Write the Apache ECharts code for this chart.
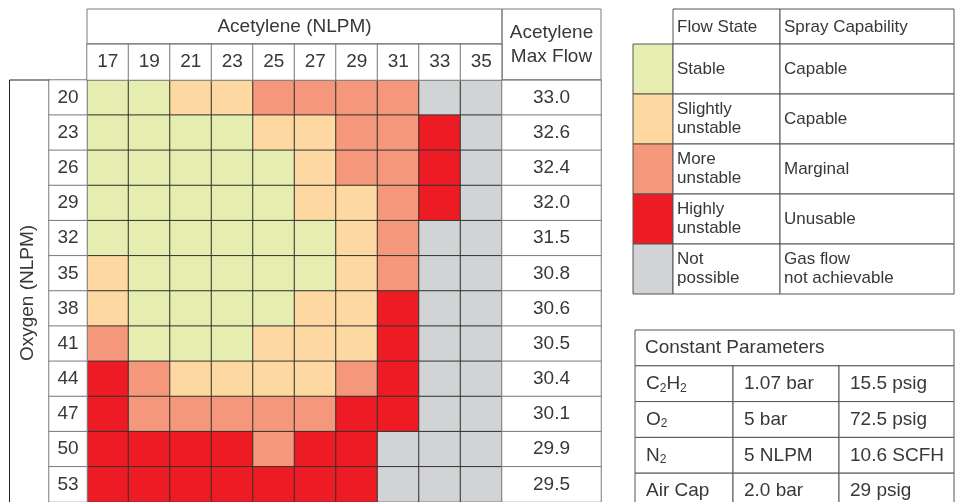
<!DOCTYPE html>
<html>
<head>
<meta charset="utf-8">
<script src="https://cdn.jsdelivr.net/npm/echarts@6/dist/echarts.min.js"></script>
<style>
html,body{margin:0;padding:0;background:#fff;}
#c1{width:962px;height:502px;}
</style>
</head>
<body>
<div id="c1"></div>
<script>
var acetylene = [17, 19, 21, 23, 25, 27, 29, 31, 33, 35];
var oxygen = [20, 23, 26, 29, 32, 35, 38, 41, 44, 47, 50, 53];
// 0 stable, 1 slightly unstable, 2 more unstable, 3 highly unstable, 4 not possible
var flowState = [
  [0, 0, 1, 1, 2, 2, 2, 2, 4, 4],
  [0, 0, 0, 0, 1, 1, 2, 2, 3, 4],
  [0, 0, 0, 0, 0, 1, 2, 2, 3, 4],
  [0, 0, 0, 0, 0, 1, 1, 2, 3, 4],
  [0, 0, 0, 0, 0, 0, 1, 2, 4, 4],
  [1, 0, 0, 0, 0, 0, 1, 2, 4, 4],
  [1, 0, 0, 0, 0, 1, 1, 3, 4, 4],
  [2, 0, 0, 0, 1, 1, 1, 3, 4, 4],
  [3, 2, 1, 1, 1, 1, 2, 3, 4, 4],
  [3, 2, 2, 2, 2, 2, 3, 3, 4, 4],
  [3, 3, 3, 3, 2, 3, 3, 4, 4, 4],
  [3, 3, 3, 3, 3, 3, 3, 4, 4, 4]
];
var maxFlow = [33.0, 32.6, 32.4, 32.0, 31.5, 30.8, 30.6, 30.5, 30.4, 30.1, 29.9, 29.5];

var stateNames = ['Stable', 'Slightly\nunstable', 'More\nunstable', 'Highly\nunstable', 'Not\npossible'];
var sprayNames = ['Capable', 'Capable', 'Marginal', 'Unusable', 'Gas flow\nnot achievable'];
var stateColors = ['#e6edb0', '#fdd8a1', '#f4977a', '#ed1c24', '#d1d3d4'];

var paramNames = ['C{s|2}H{s|2}', 'O{s|2}', 'N{s|2}', 'Air Cap'];
var paramMetric = ['1.07 bar', '5 bar', '5 NLPM', '2.0 bar'];
var paramImperial = ['15.5 psig', '72.5 psig', '10.6 SCFH', '29 psig'];

var FONT = '"Liberation Sans", Arial, sans-serif';
var TXT = '#383838';
var LINE = '#7a7a7a';

// table layout
var cellX = 87, colW = 41.5, cellTop = 80, rowH = 35.8;
var cellW = colW * acetylene.length, cellH = rowH * oxygen.length;

var cells = [];
for (var r = 0; r < oxygen.length; r++) {
  for (var c = 0; c < acetylene.length; c++) {
    cells.push([c, r, flowState[r][c]]);
  }
}
var flowCells = maxFlow.map(function (v, i) { return [0, i, v]; });
var oxyCells = oxygen.map(function (v, i) { return [0, i, v]; });
var acetCells = acetylene.map(function (v, i) { return [i, 0, v]; });

function box(x, y, w, h, fill, stroke) {
  return { type: 'rect', shape: { x: x, y: y, width: w, height: h }, style: { fill: fill || 'none', stroke: stroke || LINE, lineWidth: 1 }, z: 10 };
}
function txt(x, y, s, size, align, extra) {
  var st = { x: x, y: y, text: s, fill: TXT, fontSize: size, fontFamily: FONT, align: align || 'left', verticalAlign: 'middle', lineHeight: Math.round(size * 0.95) };
  if (extra) for (var k in extra) st[k] = extra[k];
  return { type: 'text', style: st, z: 20 };
}

var graphics = [];
// header cells
graphics.push(box(cellX, 9, cellW, 35));
graphics.push(txt(cellX + cellW / 2, 27, 'Acetylene (NLPM)', 19, 'center'));
graphics.push(box(cellX + cellW, 9, 99, 71));
graphics.push(txt(cellX + cellW + 49.5, 45, 'Acetylene\nMax Flow', 19, 'center', { lineHeight: 24 }));
// oxygen side cell
graphics.push({ type: 'polyline', shape: { points: [[49, cellTop], [9.5, cellTop], [9.5, 510]] }, style: { stroke: '#222', lineWidth: 1, fill: 'none' }, z: 10 });
graphics.push({ type: 'text', x: 28, y: 293, rotation: Math.PI / 2, style: { x: 0, y: 0, text: 'Oxygen (NLPM)', fill: TXT, fontSize: 19, fontFamily: FONT, align: 'center', verticalAlign: 'middle' }, z: 20 });

// legend table
var lgX = 633, swW = 40, fsW = 107, spW = 174, lgTop = 44, lgRowH = 50;
graphics.push(box(lgX + swW, 9, fsW, 35, '#fff', '#555'));
graphics.push(box(lgX + swW + fsW, 9, spW, 35, '#fff', '#555'));
graphics.push(txt(lgX + swW + 4, 27, 'Flow State', 17));
graphics.push(txt(lgX + swW + fsW + 4, 27, 'Spray Capability', 17));
stateNames.forEach(function (n, i) {
  var y = lgTop + i * lgRowH;
  graphics.push(box(lgX, y, swW, lgRowH, stateColors[i], '#555'));
  graphics.push(box(lgX + swW, y, fsW, lgRowH, '#fff', '#555'));
  graphics.push(box(lgX + swW + fsW, y, spW, lgRowH, '#fff', '#555'));
  graphics.push(txt(lgX + swW + 4, y + lgRowH / 2, n, 17, 'left', { lineHeight: 19 }));
  graphics.push(txt(lgX + swW + fsW + 4, y + lgRowH / 2, sprayNames[i], 17, 'left', { lineHeight: 19 }));
});

// constant parameters table
var cpX = 635, cpTop = 330, cpCols = [0, 98, 204, 319];
graphics.push(box(cpX, cpTop, cpCols[3], rowH, '#fff', '#555'));
graphics.push(txt(cpX + 10, cpTop + rowH / 2, 'Constant Parameters', 19));
var subRich = { s: { fontSize: 12, fontFamily: FONT, fill: TXT, lineHeight: 12, padding: [9, 0, 0, 0] } };
paramNames.forEach(function (n, i) {
  var y = cpTop + (i + 1) * rowH;
  var cols = [n, paramMetric[i], paramImperial[i]];
  for (var c = 0; c < 3; c++) {
    graphics.push(box(cpX + cpCols[c], y, cpCols[c + 1] - cpCols[c], rowH, '#fff', '#555'));
    graphics.push(txt(cpX + cpCols[c] + 11, y + rowH / 2, cols[c], 19, 'left', c === 0 ? { rich: subRich, lineHeight: 21 } : null));
  }
});

var labelStyle = { show: true, color: TXT, fontSize: 19, fontFamily: FONT };
function plainAxis(data, idx, inverse) {
  return { type: 'category', data: data, gridIndex: idx, show: false, inverse: !!inverse };
}

var chart = echarts.init(document.getElementById('c1'));
var option = {
  backgroundColor: '#fff',
  animation: false,
  grid: [
    { left: cellX, top: cellTop, width: cellW, height: cellH },
    { left: cellX + cellW, top: cellTop, width: 99, height: cellH },
    { left: 49, top: cellTop, width: cellX - 49, height: cellH },
    { left: cellX, top: 44, width: cellW, height: 36 }
  ],
  xAxis: [
    plainAxis(acetylene, 0),
    plainAxis(['max'], 1),
    plainAxis(['o2'], 2),
    plainAxis(acetylene, 3)
  ],
  yAxis: [
    plainAxis(oxygen, 0, true),
    plainAxis(oxygen, 1, true),
    plainAxis(oxygen, 2, true),
    plainAxis(['c2h2'], 3)
  ],
  visualMap: {
    type: 'piecewise',
    show: false,
    seriesIndex: 0,
    dimension: 2,
    pieces: stateColors.map(function (col, i) { return { value: i, color: col }; })
  },
  series: [
    {
      name: 'Flow state', type: 'heatmap', xAxisIndex: 0, yAxisIndex: 0, data: cells,
      itemStyle: { borderColor: '#333', borderWidth: 1 },
      emphasis: { disabled: true }
    },
    {
      name: 'Acetylene Max Flow', type: 'heatmap', xAxisIndex: 1, yAxisIndex: 1, data: flowCells,
      itemStyle: { color: '#fff', borderColor: LINE, borderWidth: 1 },
      label: Object.assign({ formatter: function (p) { return p.value[2].toFixed(1); } }, labelStyle),
      emphasis: { disabled: true }
    },
    {
      name: 'Oxygen', type: 'heatmap', xAxisIndex: 2, yAxisIndex: 2, data: oxyCells,
      itemStyle: { color: '#fff', borderColor: LINE, borderWidth: 1 },
      label: Object.assign({ formatter: function (p) { return p.value[2]; } }, labelStyle),
      emphasis: { disabled: true }
    },
    {
      name: 'Acetylene', type: 'heatmap', xAxisIndex: 3, yAxisIndex: 3, data: acetCells,
      itemStyle: { color: '#fff', borderColor: LINE, borderWidth: 1 },
      label: Object.assign({ formatter: function (p) { return p.value[2]; } }, labelStyle),
      emphasis: { disabled: true }
    }
  ],
  graphic: graphics
};
chart.setOption(option);
</script>
</body>
</html>
